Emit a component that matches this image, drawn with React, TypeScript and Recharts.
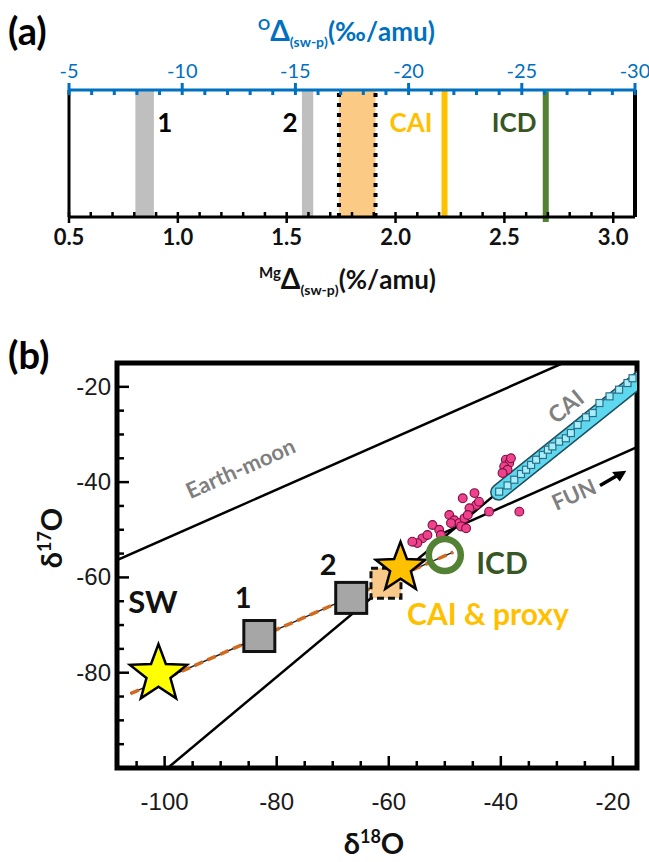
import React from 'react'
import {
  ComposedChart,
  XAxis,
  YAxis,
  Line,
  Scatter,
  ReferenceArea,
  ReferenceLine,
} from 'recharts'

const FONT = 'Lato, "Open Sans", sans-serif'
const TICK_FONT = '"Liberation Sans", Arial, sans-serif'

// ---------- panel (a) ----------
const mgDomain: [number, number] = [0.5, 3.1]
const mgMajor = [0.5, 1.0, 1.5, 2.0, 2.5, 3.0]
const oDomain: [number, number] = [-30, -5]
const oMajor = [-5, -10, -15, -20, -25, -30]

const grayBands = [
  { name: '1', from: 0.805, to: 0.89 },
  { name: '2', from: 1.57, to: 1.622 },
]
const proxyBand = { from: 1.74, to: 1.908 }
const caiMg = 2.225
const icdMg = 2.69

const bandLabels = [
  { text: '1', x: 0.94, y: 0.75 },
  { text: '2', x: 1.515, y: 0.75 },
  { text: 'CAI', x: 2.071, y: 0.75 },
  { text: 'ICD', x: 2.545, y: 0.75 },
]

// ---------- panel (b) ----------
const d18Domain: [number, number] = [-108.5, -15.7]
const d17Domain: [number, number] = [-100, -15]
const d18Major = [-100, -80, -60, -40, -20]
const d17Major = [-20, -40, -60, -80]

const earthMoonLine = [
  { x: -112, y: -58.2 },
  { x: -10, y: -5.2 },
]
const slopeOneLine = [
  { x: -102, y: -102.5 },
  { x: -40.4, y: -42.0 },
]
const funLine = [
  { x: -50.5, y: -50.8 },
  { x: -10, y: -29.7 },
]
const caiBand = [
  { x: -40.4, y: -42.1 },
  { x: -10, y: -13.5 },
]
const caiPoints = [
  { x: -40.3, y: -42.0 }, { x: -38.8, y: -40.7 }, { x: -37.6, y: -39.5 },
  { x: -36.4, y: -38.3 }, { x: -35.5, y: -37.4 }, { x: -34.6, y: -36.4 },
  { x: -33.7, y: -35.3 }, { x: -32.5, y: -34.3 }, { x: -31.6, y: -33.2 },
  { x: -30.8, y: -32.5 }, { x: -29.6, y: -31.5 }, { x: -28.4, y: -30.8 },
  { x: -27.5, y: -29.7 }, { x: -26.3, y: -28.0 }, { x: -24.8, y: -26.4 },
  { x: -23.6, y: -25.5 }, { x: -22.4, y: -23.4 }, { x: -20.6, y: -22.0 },
  { x: -18.9, y: -20.6 }, { x: -17.4, y: -19.2 }, { x: -16.5, y: -18.2 },
]
const chondrulePoints = [
  { x: -39.1, y: -35.3 }, { x: -38.5, y: -36.0 }, { x: -39.4, y: -36.7 },
  { x: -38.8, y: -37.4 }, { x: -39.7, y: -38.1 }, { x: -38.2, y: -35.0 },
  { x: -46.8, y: -43.4 }, { x: -44.7, y: -42.3 }, { x: -44.4, y: -44.8 },
  { x: -45.6, y: -45.5 }, { x: -43.9, y: -44.1 }, { x: -49.2, y: -46.9 },
  { x: -48.3, y: -48.0 }, { x: -47.4, y: -48.6 }, { x: -46.5, y: -47.6 },
  { x: -45.9, y: -46.9 }, { x: -48.9, y: -48.6 }, { x: -47.1, y: -49.3 },
  { x: -46.2, y: -49.7 }, { x: -52.2, y: -49.0 }, { x: -51.0, y: -50.0 },
  { x: -54.0, y: -51.8 }, { x: -54.9, y: -52.8 }, { x: -55.8, y: -52.5 },
  { x: -53.1, y: -51.1 }, { x: -50.7, y: -51.1 }, { x: -42.1, y: -46.2 },
  { x: -36.7, y: -46.2 },
]
const mixingLine = [
  { x: -106.1, y: -84.4 },
  { x: -48.5, y: -54.7 },
]
const arrowShaft = [
  { x: -22.3, y: -40.7 },
  { x: -18.9, y: -38.4 },
]
const arrowTip = [{ x: -17.6, y: -37.6 }]

const swStar = [{ x: -101.1, y: -80.3 }]
const sampleSquares = [
  { name: '1', x: -83.1, y: -72.3 },
  { name: '2', x: -66.7, y: -64.3 },
]
const proxySquare = [{ x: -60.5, y: -61.2 }]
const caiStar = [{ x: -57.9, y: -58.0 }]
const icdPoint = [{ x: -50.0, y: -55.3 }]

const plotLabels = [
  { text: 'SW', x: -102.1, y: -64.9 },
  { text: '1', x: -86.0, y: -64.1 },
  { text: '2', x: -70.8, y: -57.0 },
  { text: 'ICD', x: -39.8, y: -56.7 },
  { text: 'CAI & proxy', x: -42.3, y: -67.5 },
  { text: 'Earth-moon', x: -86.5, y: -37.0 },
  { text: 'CAI', x: -28.5, y: -24.0 },
  { text: 'FUN', x: -27.0, y: -42.5 },
]
const plotLabelStyle: Record<string, { fill: string; size: number; angle: number }> = {
  SW: { fill: '#111', size: 31, angle: 0 },
  '1': { fill: '#111', size: 29, angle: 0 },
  '2': { fill: '#111', size: 29, angle: 0 },
  ICD: { fill: '#375623', size: 30, angle: 0 },
  'CAI & proxy': { fill: '#FFC000', size: 30, angle: 0 },
  'Earth-moon': { fill: '#7F7F7F', size: 22, angle: -24 },
  CAI: { fill: '#7F7F7F', size: 23, angle: -39 },
  FUN: { fill: '#7F7F7F', size: 22, angle: -24 },
}
const bandLabelColor: Record<string, string> = {
  '1': '#000',
  '2': '#000',
  CAI: '#FFC000',
  ICD: '#375623',
}

const range = (a: number, b: number, step: number) => {
  const out: number[] = []
  for (let v = a; v <= b + 1e-9; v += step) out.push(Math.round(v * 1000) / 1000)
  return out
}
const isMajor = (list: number[], v: number) => list.some((t) => Math.abs(t - v) < 1e-6)

// ---------- ticks ----------
const MgTick = (props: any) => {
  const { x, y, payload } = props
  const major = isMajor(mgMajor, payload.value)
  return (
    <g>
      <line x1={x} x2={x} y1={y - 5} y2={major ? y + 6 : y} stroke="#000" strokeWidth={2.5} />
      {major && (
        <text x={x} y={y + 28} textAnchor="middle" fontFamily={FONT} fontWeight={700} fontSize={22} fill="#111">
          {payload.value.toFixed(1)}
        </text>
      )}
    </g>
  )
}

const OTick = (props: any) => {
  const { x, y, payload } = props
  const major = isMajor(oMajor, payload.value)
  return (
    <g>
      <line x1={x} x2={x} y1={major ? y - 7 : y} y2={y + 5} stroke="#0070C0" strokeWidth={3} />
      {major && (
        <text x={x} y={y - 12} textAnchor="middle" fontFamily={FONT} fontSize={20} fill="#0070C0">
          {payload.value}
        </text>
      )}
    </g>
  )
}

const D18Tick = (props: any) => {
  const { x, y, payload } = props
  const major = isMajor(d18Major, payload.value)
  return (
    <g>
      <line x1={x} x2={x} y1={y} y2={major ? y - 12 : y - 7} stroke="#000" strokeWidth={2.5} />
      {major && (
        <text x={x} y={y + 42} textAnchor="middle" fontFamily={TICK_FONT} fontSize={24} fill="#1a1a1a">
          {payload.value}
        </text>
      )}
    </g>
  )
}

const D17Tick = (props: any) => {
  const { x, y, payload } = props
  const major = isMajor(d17Major, payload.value)
  return (
    <g>
      <line x1={x} x2={major ? x + 12 : x + 7} y1={y} y2={y} stroke="#000" strokeWidth={2.5} />
      {major && (
        <text x={x - 6} y={y + 8} textAnchor="end" fontFamily={TICK_FONT} fontSize={24} fill="#1a1a1a">
          {payload.value}
        </text>
      )}
    </g>
  )
}

// ---------- shapes ----------
const starPath = (cx: number, cy: number, R: number, r: number) => {
  const pts: string[] = []
  for (let i = 0; i < 10; i++) {
    const a = ((-90 + i * 36) * Math.PI) / 180
    const rad = i % 2 === 0 ? R : r
    pts.push(`${cx + rad * Math.cos(a)},${cy + rad * Math.sin(a)}`)
  }
  return pts.join(' ')
}

const Star = (R: number, fill: string) => (p: any) => (
  <polygon points={starPath(p.cx, p.cy, R, R * 0.42)} fill={fill} stroke="#000" strokeWidth={2.5} strokeLinejoin="miter" />
)

const Square = (s: number, fill: string, dash?: string) => (p: any) => (
  <rect x={p.cx - s / 2} y={p.cy - s / 2} width={s} height={s} fill={fill} stroke="#111" strokeWidth={3} strokeDasharray={dash} />
)

const TextShape = (text: string, fill: string, size: number, angle: number) => (p: any) => (
  <text
    x={p.cx}
    y={p.cy}
    textAnchor="middle"
    dominantBaseline="central"
    fontFamily={FONT}
    fontWeight={700}
    fontSize={size}
    fill={fill}
    transform={angle ? `rotate(${angle}, ${p.cx}, ${p.cy})` : undefined}
  >
    {text}
  </text>
)

const Nothing = () => <g />

function PanelA() {
  return (
    <ComposedChart width={649} height={300} margin={{ top: 60, right: 14, bottom: 53, left: 69 }}>
      <XAxis
        xAxisId="mg"
        dataKey="x"
        type="number"
        domain={mgDomain}
        ticks={range(0.5, 3.1, 0.1)}
        interval={0}
        tickSize={0}
        tickMargin={0}
        tick={<MgTick />}
        tickLine={false}
        axisLine={{ stroke: '#000', strokeWidth: 3 }}
        height={30}
        allowDataOverflow
      />
      <XAxis
        xAxisId="o"
        dataKey="x"
        orientation="top"
        type="number"
        domain={oDomain}
        reversed
        ticks={range(-30, -5, 1)}
        interval={0}
        tickSize={0}
        tickMargin={0}
        tick={<OTick />}
        tickLine={false}
        axisLine={{ stroke: '#0070C0', strokeWidth: 3 }}
        height={30}
        allowDataOverflow
      />
      <YAxis yAxisId="v" dataKey="y" type="number" domain={[0, 1]} hide allowDataOverflow />
      {/* the oxygen scale carries its own tick values so it draws */}
      <Scatter
        xAxisId="o"
        yAxisId="v"
        data={oMajor.map((v) => ({ x: v, y: 1 }))}
        shape={<Nothing />}
        isAnimationActive={false}
      />
      {grayBands.map((b) => (
        <ReferenceArea
          key={b.name}
          xAxisId="mg"
          yAxisId="v"
          x1={b.from}
          x2={b.to}
          y1={0}
          y2={1}
          fill="#BFBFBF"
          fillOpacity={1}
          stroke="none"
        />
      ))}
      <ReferenceArea
        xAxisId="mg"
        yAxisId="v"
        x1={proxyBand.from}
        x2={proxyBand.to}
        y1={0}
        y2={1}
        fill="#FBCB86"
        fillOpacity={1}
        stroke="none"
      />
      {[proxyBand.from, proxyBand.to].map((v) => (
        <ReferenceLine key={v} xAxisId="mg" yAxisId="v" x={v} stroke="#000" strokeWidth={4} strokeDasharray="4 6" />
      ))}
      <ReferenceLine xAxisId="mg" yAxisId="v" x={caiMg} stroke="#FFC000" strokeWidth={6} />
      <ReferenceLine
        xAxisId="mg"
        yAxisId="v"
        segment={[{ x: icdMg, y: -0.04 }, { x: icdMg, y: 0.99 }]}
        stroke="#548235"
        strokeWidth={6}
        ifOverflow="visible"
      />
      <ReferenceLine xAxisId="mg" yAxisId="v" x={mgDomain[0]} stroke="#000" strokeWidth={3} />
      <ReferenceLine xAxisId="mg" yAxisId="v" x={mgDomain[1]} stroke="#000" strokeWidth={4} />
      {bandLabels.map((l) => (
        <Scatter
          key={l.text}
          xAxisId="mg"
          yAxisId="v"
          data={[l]}
          shape={TextShape(l.text, bandLabelColor[l.text], 26, 0)}
          isAnimationActive={false}
        />
      ))}
    </ComposedChart>
  )
}

function PanelB() {
  const lineProps = { dataKey: 'y', dot: false, activeDot: false, type: 'linear' as const, isAnimationActive: false }
  return (
    <ComposedChart width={649} height={562} margin={{ top: 63, right: 12, bottom: 54, left: 57 }}>
      <XAxis
        dataKey="x"
        type="number"
        domain={d18Domain}
        ticks={range(-105, -20, 5)}
        interval={0}
        tickSize={0}
        tickMargin={0}
        tick={<D18Tick />}
        tickLine={false}
        axisLine={false}
        height={40}
        allowDataOverflow
      />
      <YAxis
        dataKey="y"
        type="number"
        domain={d17Domain}
        ticks={range(-95, -20, 5)}
        interval={0}
        tickSize={0}
        tickMargin={0}
        tick={<D17Tick />}
        tickLine={false}
        axisLine={false}
        width={60}
        allowDataOverflow
      />
      <Line data={earthMoonLine} {...lineProps} stroke="#000" strokeWidth={2.5} />
      <Line data={slopeOneLine} {...lineProps} stroke="#000" strokeWidth={2.5} />
      <Line data={funLine} {...lineProps} stroke="#000" strokeWidth={2.5} />
      <Line data={caiBand} {...lineProps} stroke="#1E4F5C" strokeWidth={17} strokeLinecap="round" />
      <Line data={caiBand} {...lineProps} stroke="#5DD8EE" strokeWidth={14} strokeLinecap="round" />
      <Scatter
        data={caiPoints}
        line={{ stroke: '#2A6F8A', strokeWidth: 1.2 }}
        shape={(p: any) => (
          <rect x={p.cx - 3.5} y={p.cy - 3.5} width={7} height={7} fill="#A8EEF8" stroke="#2A6F8A" strokeWidth={1.2} />
        )}
        isAnimationActive={false}
      />
      <Scatter
        data={chondrulePoints}
        shape={(p: any) => <circle cx={p.cx} cy={p.cy} r={4.4} fill="#F0428C" stroke="#7A1040" strokeWidth={1.1} />}
        isAnimationActive={false}
      />
      <Line data={arrowShaft} {...lineProps} stroke="#000" strokeWidth={3.5} />
      <Scatter
        data={arrowTip}
        shape={(p: any) => (
          <polygon
            points={`${p.cx},${p.cy} ${p.cx - 13},${p.cy - 6} ${p.cx - 11},${p.cy + 6}`}
            transform={`rotate(-30, ${p.cx}, ${p.cy})`}
            fill="#000"
          />
        )}
        isAnimationActive={false}
      />
      <Scatter data={proxySquare} shape={Square(30, '#F9C98A', '7 4')} isAnimationActive={false} />
      <Line data={mixingLine} {...lineProps} stroke="#222" strokeWidth={1.5} />
      <Line data={mixingLine} {...lineProps} stroke="#D2691E" strokeWidth={3.5} strokeDasharray="9 5" />
      <Scatter data={sampleSquares} shape={Square(31, '#A6A6A6')} isAnimationActive={false} />
      <Scatter data={swStar} shape={Star(30, '#FFFF00')} isAnimationActive={false} />
      <Scatter data={caiStar} shape={Star(26, '#FFC000')} isAnimationActive={false} />
      <Scatter
        data={icdPoint}
        shape={(p: any) => <circle cx={p.cx} cy={p.cy} r={16} fill="none" stroke="#548235" strokeWidth={6.5} />}
        isAnimationActive={false}
      />
      {plotLabels.map((l) => {
        const s = plotLabelStyle[l.text]
        return (
          <Scatter
            key={l.text + l.x}
            data={[l]}
            shape={TextShape(l.text, s.fill, s.size, s.angle)}
            isAnimationActive={false}
          />
        )
      })}
      <ReferenceArea
        x1={d18Domain[0]}
        x2={d18Domain[1]}
        y1={d17Domain[0]}
        y2={d17Domain[1]}
        fill="none"
        stroke="#000"
        strokeWidth={5}
        ifOverflow="visible"
      />
    </ComposedChart>
  )
}

export default function App() {
  return (
    <div style={{ position: 'absolute', left: 0, top: 0, width: 649, height: 862, background: '#fff' }}>
      <div style={{ position: 'absolute', left: 0, top: 0 }}>
        <PanelA />
      </div>
      <div style={{ position: 'absolute', left: 0, top: 300 }}>
        <PanelB />
      </div>
      <svg
        width={649}
        height={862}
        style={{ position: 'absolute', left: 0, top: 0, pointerEvents: 'none' }}
        fontFamily={FONT}
        fontWeight={700}
      >
        <text x={8} y={45} fontSize={38}>(a)</text>
        <text x={258} y={41} fill="#0070C0">
          <tspan fontSize={15} dy={-11}>O</tspan>
          <tspan fontSize={28} dy={11}>Δ</tspan>
          <tspan fontSize={14} dy={6}>(sw-p)</tspan>
          <tspan fontSize={26} dy={-6}>(‰/amu)</tspan>
        </text>
        <text x={259} y={289} fill="#111">
          <tspan fontSize={15} dy={-11}>Mg</tspan>
          <tspan fontSize={28} dy={11}>Δ</tspan>
          <tspan fontSize={14} dy={6}>(sw-p)</tspan>
          <tspan fontSize={26} dy={-6}>(%/amu)</tspan>
        </text>
        <text x={8} y={369} fontSize={38}>(b)</text>
        <text x={62} y={538} textAnchor="middle" transform="rotate(-90, 62, 538)" fill="#111">
          <tspan fontSize={29}>δ</tspan>
          <tspan fontSize={18} dy={-11}>17</tspan>
          <tspan fontSize={29} dy={11}>O</tspan>
        </text>
        <text x={374} y={854} textAnchor="middle" fill="#111">
          <tspan fontSize={29}>δ</tspan>
          <tspan fontSize={18} dy={-11}>18</tspan>
          <tspan fontSize={29} dy={11}>O</tspan>
        </text>
      </svg>
    </div>
  )
}
